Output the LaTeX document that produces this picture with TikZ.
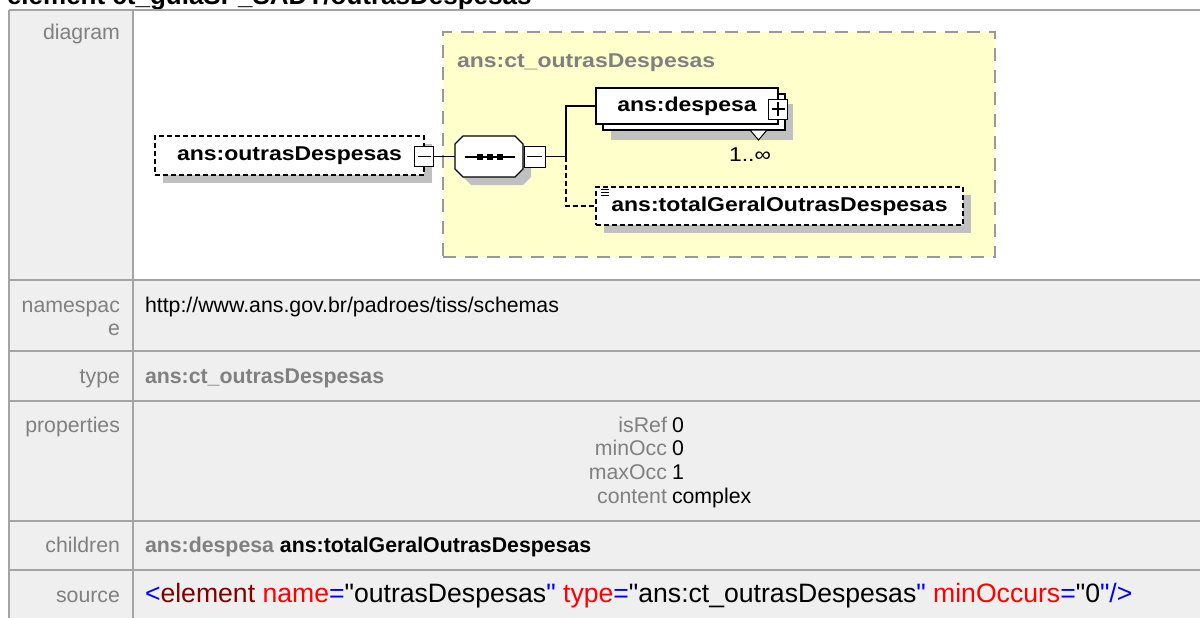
\documentclass[tikz,border=0pt]{standalone}
\usepackage{fontspec}
\setmainfont{Liberation Sans}
\newfontfamily\diagfont[FakeStretch=1.15]{Liberation Sans}
\newfontfamily\srcfont[Ligatures=TeXOff]{Liberation Sans}
\usetikzlibrary{shadows}
\definecolor{tblbg}{HTML}{EFEFEF}
\definecolor{tblline}{HTML}{A4A4A4}
\definecolor{lblgray}{HTML}{808080}
\definecolor{ctfill}{HTML}{FFFFCC}
\definecolor{ctborder}{HTML}{999999}
\definecolor{shadowc}{HTML}{C0C0C0}
\definecolor{xmlblue}{HTML}{0000FF}
\definecolor{xmldred}{HTML}{800000}
\definecolor{xmlred}{HTML}{FF0000}
\begin{document}
\begin{tikzpicture}[x=1pt,y=-1pt,
  every node/.style={inner sep=0pt, outer sep=0pt},
  tline/.style={draw=tblline, line width=2.4},
  lbl/.style={anchor=base east, text=lblgray, font=\fontsize{21.3}{24}\selectfont},
  val/.style={anchor=base west, font=\fontsize{21.3}{24}\selectfont},
  dfont/.style={font=\diagfont\fontsize{20}{24}\selectfont\bfseries},
  shad/.style={drop shadow={shadow xshift=8pt, shadow yshift=-8pt, fill=shadowc, opacity=1}},
  elembox/.style={draw=black, fill=white, line width=1.2, dfont},
  elemdash/.style={elembox, dash pattern=on 5pt off 3pt},
  minusbox/.style={draw=black, fill=white, line width=1, minimum width=19, minimum height=20,
    path picture={\draw[line width=1.2] ([xshift=3pt]path picture bounding box.west) -- ([xshift=-3pt]path picture bounding box.east);}},
  plusbox/.style={minusbox,
    path picture={\draw[line width=1.2] ([xshift=3pt]path picture bounding box.west) -- ([xshift=-3pt]path picture bounding box.east);
                  \draw[line width=1.2] ([yshift=-3pt]path picture bounding box.north) -- ([yshift=3pt]path picture bounding box.south);}},
  conn/.style={draw=black, line width=1.2}
]
\useasboundingbox (0,0) rectangle (1200,618);
\clip (0,0) rectangle (1200,618);

% title (cut off at top, as in the reference)
\node[anchor=base west, font=\fontsize{26}{30}\selectfont\bfseries] (title) at (7,4.5) {element ct\_guiaSP\_SADT/outrasDespesas};

% table
\fill[tblbg] (9,10) rectangle (1200,618);
\fill[white] (133,10) rectangle (1200,280);
\draw[tline] (9,10) -- (1200,10);
\draw[tline] (9,10) -- (9,618);
\draw[tline] (133,10) -- (133,618);
\foreach \yy in {280,351,401,521,570} \draw[tline] (9,\yy) -- (1200,\yy);

% labels
\node[lbl] (ldiag) at (120,40) {diagram};
\node[lbl] (lns1) at (120,312) {namespac};
\node[lbl] (lns2) at (120,335) {e};
\node[lbl] (ltype) at (120,383) {type};
\node[lbl] (lprop) at (120,432) {properties};
\node[lbl] (lchild) at (120,552) {children};
\node[lbl] (lsrc) at (120,602) {source};

% values
\node[val] (vns) at (145,312) {http://www.ans.gov.br/padroes/tiss/schemas};
\node[val, text=lblgray] (vtype) at (145,383) {\bfseries ans:ct\_outrasDespesas};
\node[lbl] (pk1) at (667,432) {isRef};
\node[val] (pv1) at (672,432) {0};
\node[lbl] (pk2) at (667,455) {minOcc};
\node[val] (pv2) at (672,455) {0};
\node[lbl] (pk3) at (667,479) {maxOcc};
\node[val] (pv3) at (672,479) {1};
\node[lbl] (pk4) at (667,503) {content};
\node[val] (pv4) at (672,503) {complex};
\node[val] (vchild) at (145,552) {\bfseries\textcolor{lblgray}{ans:despesa} ans:totalGeralOutrasDespesas};
\node[anchor=base west, font=\srcfont\fontsize{26.6}{30}\selectfont] (vsrc) at (145,602)
  {\textcolor{xmlblue}{<}\textcolor{xmldred}{element} \textcolor{xmlred}{name}\textcolor{xmlblue}{=}"outrasDespesas\textcolor{xmlblue}{"} \textcolor{xmlred}{type}\textcolor{xmlblue}{=}"ans:ct\_outrasDespesas\textcolor{xmlblue}{"} \textcolor{xmlred}{minOccurs}\textcolor{xmlblue}{=}"0\textcolor{xmlblue}{"/>}};

% complex type box
\node[draw=ctborder, fill=ctfill, line width=1.8, dash pattern=on 13pt off 9pt,
      minimum width=552, minimum height=225] (ct) at (719,144.5) {};
\node[anchor=base west, dfont, text=lblgray] (ctl) at (457,67) {ans:ct\_outrasDespesas};

% root element
\node[elemdash, shad, minimum width=269, minimum height=39] (od) at (289.5,155.5) {ans:outrasDespesas};
\node[minusbox] (odm) at ([yshift=-1pt]od.east) {};

% sequence compositor
\node[minimum width=68, minimum height=41] (seq) at (489,156.5) {};
\fill[shadowc, shift={(8,8)}] (463,136) -- (515,136) -- (523,144) -- (523,169) -- (515,177) -- (463,177) -- (455,169) -- (455,144) -- cycle;
\draw[fill=white, line width=1.2] (463,136) -- (515,136) -- (523,144) -- (523,169) -- (515,177) -- (463,177) -- (455,169) -- (455,144) -- cycle;
\draw[line width=1.2] (465,157) -- (515,157);
\foreach \xx in {480,490,500} \fill (\xx-2.8,154.2) rectangle (\xx+2.8,159.8);
\node[minusbox, minimum width=21, minimum height=21, anchor=west] (sqm) at ([xshift=1pt]seq.east) {};

% despesa (repeated element)
\node[draw=black, fill=white, line width=1.2, minimum width=182, minimum height=36,
      drop shadow={shadow xshift=8pt, shadow yshift=-10pt, fill=shadowc, opacity=1}] (despb) at (694,112) {};
\node[elembox, minimum width=182, minimum height=36] (desp) at (687,106) {ans:despesa};
\node[plusbox] (despp) at ([yshift=-3pt]desp.east) {};
\draw[line width=1, fill=white] (750,130) -- (767,130) -- (758.5,140) -- cycle;
\node[font=\diagfont\fontsize{20}{24}\selectfont] (mult) at (750,155) {1..∞};

% totalGeralOutrasDespesas
\node[elemdash, shad, minimum width=367, minimum height=38] (tot) at (779.5,206) {ans:totalGeralOutrasDespesas};
\foreach \yy in {189,192,195} \draw[line width=1] (601,\yy) -- (609,\yy);

% connectors
\draw[conn] (odm.east) -- (seq.west);
\draw[conn] (sqm.east) -- (566,156.5) coordinate (br);
\draw[conn] (br) |- (desp.west);
\draw[conn, dash pattern=on 5pt off 3pt] (br) |- (tot.west);
\end{tikzpicture}
\end{document}
